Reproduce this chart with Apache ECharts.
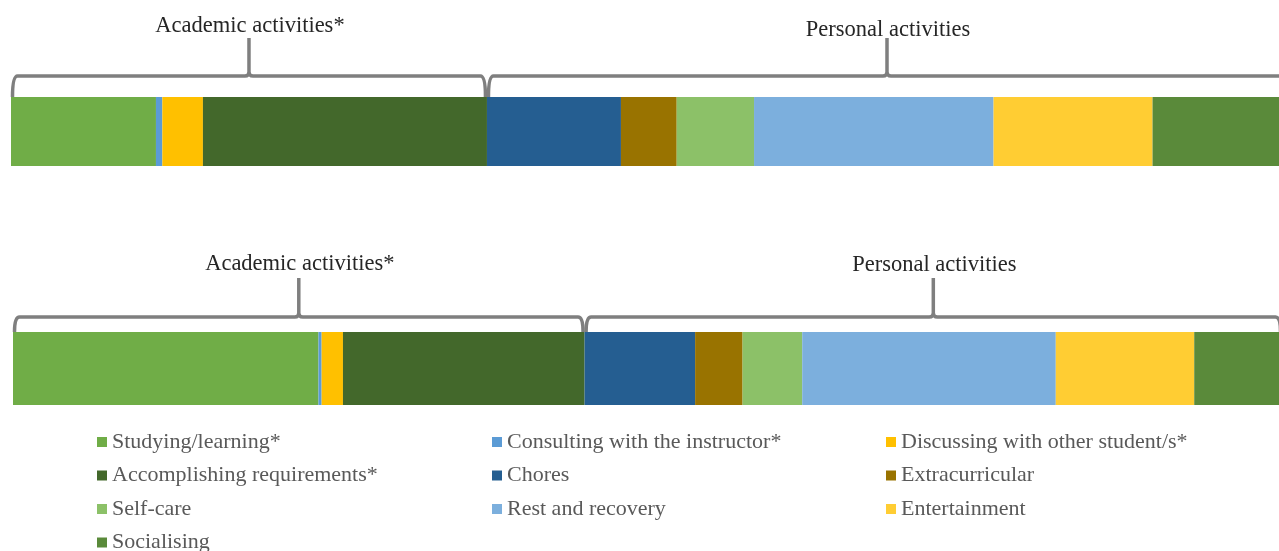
<!DOCTYPE html>
<html>
<head>
<meta charset="utf-8">
<script src="https://cdn.jsdelivr.net/npm/echarts@6/dist/echarts.min.js"></script>
<style>
html,body{margin:0;padding:0;background:#fff;}
#chart{width:1279px;height:551px;}
</style>
</head>
<body>
<div id="chart"></div>
<script>
// ---- data ----
const categories = [
  'Studying/learning*',
  'Consulting with the instructor*',
  'Discussing with other student/s*',
  'Accomplishing requirements*',
  'Chores',
  'Extracurricular',
  'Self-care',
  'Rest and recovery',
  'Entertainment',
  'Socialising'
];
// share of time (%) for each activity, top bar and bottom bar
const topValues    = [11.36, 0.50, 3.18, 22.26, 10.50, 4.37, 6.06, 18.77, 12.46, 10.54];
const bottomValues = [24.07, 0.25, 1.68, 19.04, 8.71, 3.74, 4.70, 19.98, 10.91, 6.92];
const academicCount = 4; // first four categories are academic
const groupLabels = ['Academic activities*', 'Personal activities'];
const colors = ['#70AD47', '#5B9BD5', '#FFC000', '#43682B', '#255E91', '#997300', '#8CC168', '#7CAFDD', '#FFCD33', '#5A8A3A'];
const legendCols = [
  ['Studying/learning*', 'Accomplishing requirements*', 'Self-care', 'Socialising'],
  ['Consulting with the instructor*', 'Chores', 'Rest and recovery'],
  ['Discussing with other student/s*', 'Extracurricular', 'Entertainment']
];

// ---- chart ----
const chart = echarts.init(document.getElementById('chart'), null, {renderer: 'canvas'});
const bars = [topValues, bottomValues];
// the picture is cropped on the right: the visible part of each axis ends a little before 100 %
const gridCfg = [
  {left: 11, top: 97, width: 1268, height: 69, axisMax: 99.37, gap: 21, tip: 38, labelOff: [50, 46]},
  {left: 13, top: 332, width: 1266, height: 73, axisMax: 99.76, gap: 15, tip: 39, labelOff: [53, 52]}
];
const serif = '"Liberation Serif", "Times New Roman", serif';

function sum(a){ return a.reduce((s, v) => s + v, 0); }

const series = [];
bars.forEach((vals, g) => {
  vals.forEach((v, i) => {
    series.push({
      type: 'bar', name: categories[i], stack: 's' + g,
      xAxisIndex: g, yAxisIndex: g,
      data: [v], barWidth: '100%', barCategoryGap: '0%',
      itemStyle: {color: colors[i]},
      emphasis: {disabled: true}, silent: true
    });
  });
  const acad = sum(vals.slice(0, academicCount));
  const tot = sum(vals);
  const cfg = gridCfg[g];
  series.push({
    type: 'custom', xAxisIndex: g, yAxisIndex: g, silent: true, clip: false,
    data: [[0, acad, 0], [acad, tot, 1]],
    encode: {x: [0, 1]},
    renderItem: function (params, api) {
      const s = api.coord([api.value(0), 0]);
      const e = api.coord([api.value(1), 0]);
      const band = api.size([0, 1])[1];
      const barTop = s[1] - band / 2;
      const h = barTop - cfg.gap;
      const x0 = s[0] + 1.5, x1 = e[0] - 1.5;
      const mid = (x0 + x1) / 2;
      const r = 5, rt = 4;
      const tipTop = h - cfg.tip;
      const idx = api.value(2);
      const path = 'M' + x0 + ',' + barTop +
        ' Q' + x0 + ',' + h + ' ' + (x0 + r) + ',' + h +
        ' L' + (mid - rt) + ',' + h +
        ' Q' + mid + ',' + h + ' ' + mid + ',' + (h - rt) +
        ' L' + mid + ',' + tipTop +
        ' M' + mid + ',' + (h - rt) +
        ' Q' + mid + ',' + h + ' ' + (mid + rt) + ',' + h +
        ' L' + (x1 - r) + ',' + h +
        ' Q' + x1 + ',' + h + ' ' + x1 + ',' + barTop;
      return {
        type: 'group',
        children: [
          {type: 'path', shape: {pathData: path}, style: {fill: 'none', stroke: '#7F7F7F', lineWidth: 3.5}},
          {type: 'text', style: {
            text: groupLabels[idx], x: mid + 1, y: h - cfg.labelOff[idx],
            align: 'center', verticalAlign: 'middle',
            font: '22.5px ' + serif, fill: '#262626'
          }}
        ]
      };
    }
  });
});

const legends = legendCols.map((items, c) => ({
  orient: 'vertical',
  left: [97, 492, 886][c],
  top: 431,
  height: 200,
  data: items,
  icon: 'rect',
  itemWidth: 10, itemHeight: 10,
  itemGap: 11.5,
  padding: 0,
  selectedMode: false,
  textStyle: {fontFamily: serif, fontSize: 22, color: '#595959', lineHeight: 22}
}));

chart.setOption({
  animation: false,
  backgroundColor: '#fff',
  grid: gridCfg.map(c => ({left: c.left, top: c.top, width: c.width, height: c.height, containLabel: false})),
  xAxis: gridCfg.map((c, g) => ({type: 'value', gridIndex: g, min: 0, max: c.axisMax, show: false})),
  yAxis: gridCfg.map((c, g) => ({type: 'category', gridIndex: g, data: ['bar'], show: false})),
  legend: legends,
  series: series
});
</script>
</body>
</html>
